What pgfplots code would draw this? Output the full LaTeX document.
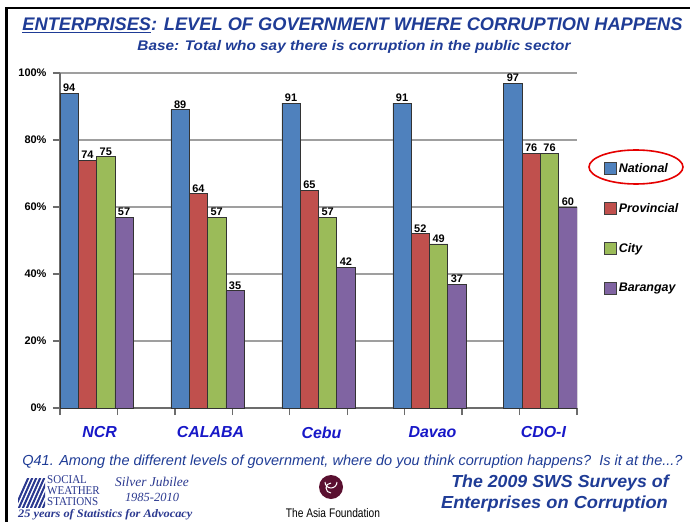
\documentclass[border=0pt]{standalone}
\usepackage{pgfplots}
\pgfplotsset{compat=1.18}
\usepackage{fontspec}
\setmainfont{Liberation Sans}
\newfontfamily\seriffont{Liberation Serif}
\definecolor{cNat}{HTML}{4F81BD}
\definecolor{cProv}{HTML}{C0504D}
\definecolor{cCity}{HTML}{9BBB59}
\definecolor{cBar}{HTML}{8064A2}
\definecolor{titleblue}{HTML}{1F3C96}
\definecolor{catblue}{HTML}{1818C8}
\definecolor{swsblue}{HTML}{2B3990}
\definecolor{maroon}{HTML}{5A1030}
\pgfplotstableread{
x nat prov city bar
0 94 74 75 57
1 89 64 57 35
2 91 65 57 42
3 91 52 49 37
4 97 76 76 60
}\data
\pgfplotsset{myleg/.style={legend image code/.code={\draw[##1,draw=black!75,line width=0.8bp] (0bp,-6bp) rectangle (12bp,6bp);}}}
\begin{document}
\begin{tikzpicture}[x=1bp,y=1bp]
\useasboundingbox (0,0) rectangle (690,-522);
\fill[white] (0,0) rectangle (690,-522);
\draw[black, line width=2.5bp] (6.5,-522) -- (6.5,-8) -- (690,-8);
\begin{axis}[
  at={(60bp,-408bp)}, anchor=south west,
  scale only axis, width=517bp, height=335bp,
  xmin=-0.33, xmax=4.33, ymin=0, ymax=100,
  ybar=0pt, bar width=18.3bp,
  /pgf/number format/assume math mode=true,
  axis lines=left,
  axis line style={-, draw=gray!85!black, line width=1.8bp},
  ymajorgrids, grid style={draw=gray!75, line width=1.3bp},
  ytick={0,20,40,60,80,100},
  yticklabels={0\%,20\%,40\%,60\%,80\%,100\%},
  tick align=outside,
  y tick label style={font=\bfseries\fontsize{11}{11}\selectfont, xshift=-3bp},
  ytick style={draw=gray!85!black, line width=1.3bp},
  major tick length=7bp,
  xtick={0,1,2,3,4},
  xticklabels={NCR,CALABA,Cebu,Davao,CDO-I},
  major x tick style={draw=none},
  minor xtick={-0.33,0.1878,0.7056,1.2233,1.7411,2.2589,2.7767,3.2944,3.8122,4.33},
  minor x tick style={draw=gray!85!black, line width=1.3bp},
  minor tick length=7bp,
  x tick label style={font=\bfseries\itshape\fontsize{16}{16}\selectfont, text=catblue, yshift=-8bp, xshift=3bp},
  nodes near coords,
  nodes near coords style={font=\bfseries\fontsize{11}{11}\selectfont, inner sep=1bp, anchor=south, text=black},
  legend style={at={(1.046,0.743)}, anchor=north west, draw=none, fill=none,
    font=\bfseries\itshape\fontsize{12.5}{12.5}\selectfont, row sep=25.5bp,
    legend cell align=left},
]
\addplot[fill=cNat, draw=black!80, line width=0.7bp, myleg] table[x=x,y=nat]{\data};
\addplot[fill=cProv, draw=black!80, line width=0.7bp, myleg] table[x=x,y=prov]{\data};
\addplot[fill=cCity, draw=black!80, line width=0.7bp, myleg] table[x=x,y=city]{\data};
\addplot[fill=cBar, draw=black!80, line width=0.7bp, myleg] table[x=x,y=bar]{\data};
\legend{National,Provincial,City,Barangay}
\end{axis}
\draw[red!90!black, line width=1.6bp] (636,-167) ellipse [x radius=47, y radius=17];
% titles
\node[font=\bfseries\itshape\fontsize{18.3}{18.3}\selectfont, text=titleblue, inner sep=0] at (352.5,-25) {\underline{ENTERPRISES}: LEVEL OF GOVERNMENT WHERE CORRUPTION HAPPENS};
\node[font=\bfseries\itshape\fontsize{14}{14}\selectfont, text=titleblue, inner sep=0] at (354,-47) {\scalebox{1.1}[1]{Base: Total who say there is corruption in the public sector}};
\node[font=\itshape\fontsize{14.6}{14.6}\selectfont, text=titleblue, inner sep=0] at (352.5,-462) {Q41. Among the different levels of government, where do you think corruption happens?\ \ Is it at the...?};
% SWS logo
\begin{scope}
\clip (18,-478) -- (45,-478) -- (45,-507) -- (18,-507) -- cycle;
\foreach \d in {0,4,8,12,16,20,24,28}{\draw[swsblue, line width=2bp] (14+\d,-510) -- (30+\d,-474);}
\end{scope}
\node[font=\seriffont\fontsize{12}{12}\selectfont, text=swsblue, anchor=west, inner sep=0] at (47,-480) {\scalebox{0.92}[1]{SOCIAL}};
\node[font=\seriffont\fontsize{12}{12}\selectfont, text=swsblue, anchor=west, inner sep=0] at (47,-491) {\scalebox{0.92}[1]{WEATHER}};
\node[font=\seriffont\fontsize{12}{12}\selectfont, text=swsblue, anchor=west, inner sep=0] at (47,-502) {\scalebox{0.92}[1]{STATIONS}};
\node[font=\seriffont\itshape\fontsize{13.5}{13.5}\selectfont, text=swsblue, inner sep=0] at (152,-482) {Silver Jubilee};
\node[font=\seriffont\itshape\fontsize{12.5}{12.5}\selectfont, text=swsblue, inner sep=0] at (152,-497) {1985-2010};
\node[font=\seriffont\bfseries\itshape\fontsize{11.5}{11.5}\selectfont, text=swsblue, anchor=west, inner sep=0] at (18,-515) {\scalebox{1.08}[1]{25 years of Statistics for Advocacy}};
% Asia Foundation
\fill[maroon] (331,-487) circle (12);
\draw[white, line width=1bp] (325,-482) arc (180:360:6) (331,-493) arc (270:90:5);
\node[font=\fontsize{12.5}{12.5}\selectfont, inner sep=0] at (333,-513) {\scalebox{0.82}[1]{The Asia Foundation}};
% right text
\node[font=\bfseries\itshape\fontsize{17.5}{17.5}\selectfont, text=titleblue, inner sep=0] at (560,-483) {\scalebox{1.02}[1]{The 2009 SWS Surveys of}};
\node[font=\bfseries\itshape\fontsize{17.5}{17.5}\selectfont, text=titleblue, inner sep=0] at (554.5,-504) {\scalebox{1.045}[1]{Enterprises on Corruption}};
\end{tikzpicture}
\end{document}
